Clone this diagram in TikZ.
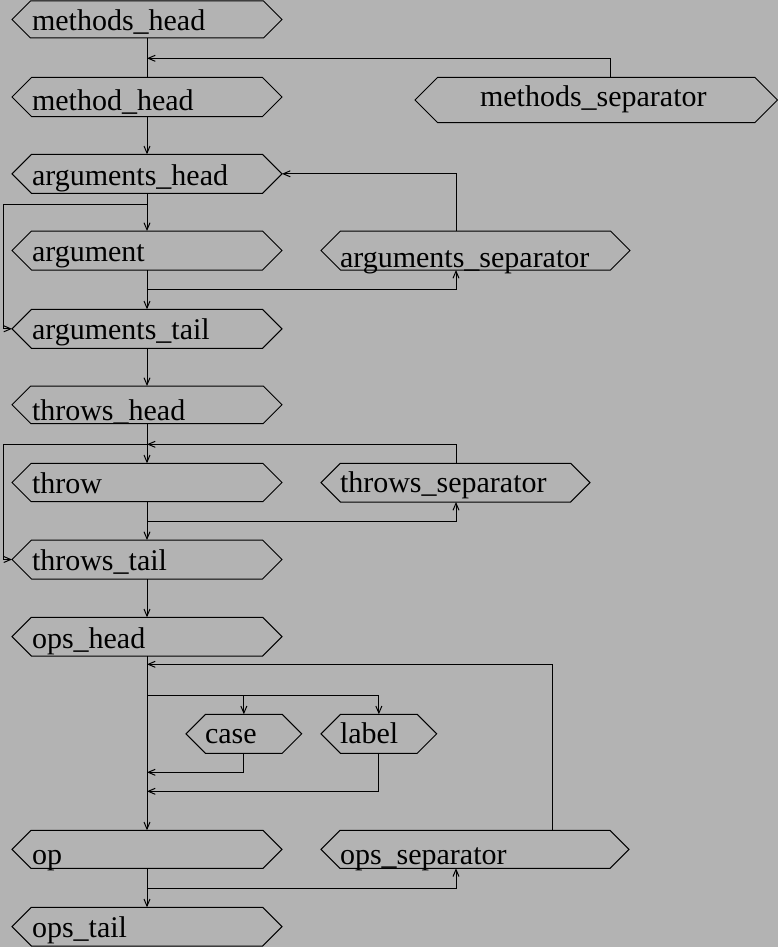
\documentclass[tikz,border=0pt]{standalone}
\usepackage{fontspec}
\setmainfont{Liberation Serif}
\usetikzlibrary{arrows.meta}
\definecolor{bggray}{RGB}{179,179,179}
\newcommand\hexshape[5]{%
  \pgfmathsetmacro\hym{(#4+#5)/2}%
  \pgfmathsetmacro\hxm{(#2+#3)/2}%
  \pgfmathsetmacro\hd{(#5-#4)/2}%
  \pgfmathsetmacro\hw{#3-#2}%
  \pgfmathsetmacro\hh{#5-#4}%
  \draw[hexline] (#2,\hym) -- (#2+\hd,#4) -- (#3-\hd,#4) -- (#3,\hym) -- (#3-\hd,#5) -- (#2+\hd,#5) -- cycle;
  \node[boxnode, minimum width=\hw pt, minimum height=\hh pt] (#1) at (\hxm,\hym) {};
}
\begin{document}
\begin{tikzpicture}[x=1pt,y=-1pt,
  hexline/.style={draw=black, line width=1pt, line join=miter},
  boxnode/.style={draw=none, inner sep=0pt, outer sep=0pt, shape=rectangle},
  lbl/.style={inner sep=0pt, outer sep=0pt, anchor=base west, font=\fontsize{30}{36}\selectfont, text=black},
  conn/.style={draw=black, line width=1pt},
  arr/.style={conn, -{Straight Barb[length=7pt,width=6pt,line width=1pt]}}]
\fill[bggray] (0,0) rectangle (778,947);
\useasboundingbox (0,0) rectangle (778,947);

% boxes
\hexshape{mh}{12}{282}{1}{38}
\hexshape{m1}{12}{282}{77.3}{116.7}
\hexshape{ah}{12}{282}{154.3}{193.3}
\hexshape{arg}{12}{282}{231}{270}
\hexshape{at}{12}{282}{309.3}{348.3}
\hexshape{th}{12}{282}{386}{423.5}
\hexshape{thr}{12}{282}{463.3}{501.7}
\hexshape{tt}{12}{282}{540}{579}
\hexshape{oh}{12}{282}{617.3}{656}
\hexshape{op}{12}{282}{830.3}{868.3}
\hexshape{ot}{12}{282}{907.3}{946}
\hexshape{msep}{415}{777.5}{77.3}{122.7}
\hexshape{asep}{321}{630}{231}{270}
\hexshape{tsep}{321}{590}{463.3}{502}
\hexshape{case}{186}{301.7}{714.3}{753.3}
\hexshape{lab}{321}{436.7}{714.3}{753.3}
\hexshape{osep}{321}{629}{830.3}{868.3}

% texts
\node[lbl] (t-mh) at (32,30.7) {methods\_head};
\node[lbl] (t-m1) at (32,111) {method\_head};
\node[lbl] (t-ah) at (32,185.3) {arguments\_head};
\node[lbl] (t-arg) at (32,261.7) {argument};
\node[lbl] (t-at) at (32,339.5) {arguments\_tail};
\node[lbl] (t-th) at (32,420) {throws\_head};
\node[lbl] (t-thr) at (32,493.3) {throw};
\node[lbl] (t-tt) at (32,570) {throws\_tail};
\node[lbl] (t-oh) at (32,648) {ops\_head};
\node[lbl] (t-op) at (32,864.3) {op};
\node[lbl] (t-ot) at (32,937.3) {ops\_tail};
\node[lbl] (t-msep) at (480,106.7) {methods\_separator};
\node[lbl] (t-asep) at (340,267) {arguments\_separator};
\node[lbl] (t-tsep) at (340,492.3) {throws\_separator};
\node[lbl] (t-case) at (205,743.3) {case};
\node[lbl] (t-lab) at (340,743.3) {label};
\node[lbl] (t-osep) at (340,864.3) {ops\_separator};

% junction coordinates
\coordinate (j1) at (147,58.3);
\coordinate (b1) at (147,204.3);
\coordinate (b1l) at (3.3,204.3);
\coordinate (b2) at (147,289.3);
\coordinate (b3) at (147,444.3);
\coordinate (b3l) at (3.3,444.3);
\coordinate (b4) at (147,521);
\coordinate (b5) at (147,664.3);
\coordinate (b6) at (147,695);
\coordinate (b7) at (147,772.3);
\coordinate (b8) at (147,791.3);
\coordinate (b9) at (147,888.3);

% connectors
\draw[conn] (mh.south) -- (m1.north);
\draw[arr] ([xshift=14pt]msep.north) |- (j1);
\draw[arr] (m1.south) -- (ah.north);
\draw[arr] (ah.south) -- (arg.north);
\draw[arr] (b1) -- (b1l) |- (at.west);
\draw[arr] (arg.south) -- (at.north);
\draw[arr] (b2) -| ([xshift=-19.5pt]asep.south);
\draw[arr] ([xshift=-19.5pt]asep.north) |- (ah.east);
\draw[arr] (at.south) -- (th.north);
\draw[arr] (th.south) -- (thr.north);
\draw[arr] ([xshift=0.5pt]tsep.north) |- (b3);
\draw[arr] (b3) -- (b3l) |- (tt.west);
\draw[arr] (thr.south) -- (tt.north);
\draw[arr] (b4) -| ([xshift=0.5pt]tsep.south);
\draw[arr] (tt.south) -- (oh.north);
\draw[arr] (oh.south) -- (op.north);
\draw[arr] ([xshift=77.3pt]osep.north) |- (b5);
\draw[arr] (b6) -| (case.north);
\draw[arr] (b6) -| (lab.north);
\draw[arr] (case.south) |- (b7);
\draw[arr] (lab.south) |- (b8);
\draw[arr] (op.south) -- (ot.north);
\draw[arr] (b9) -| ([xshift=-19pt]osep.south);
\end{tikzpicture}
\end{document}
